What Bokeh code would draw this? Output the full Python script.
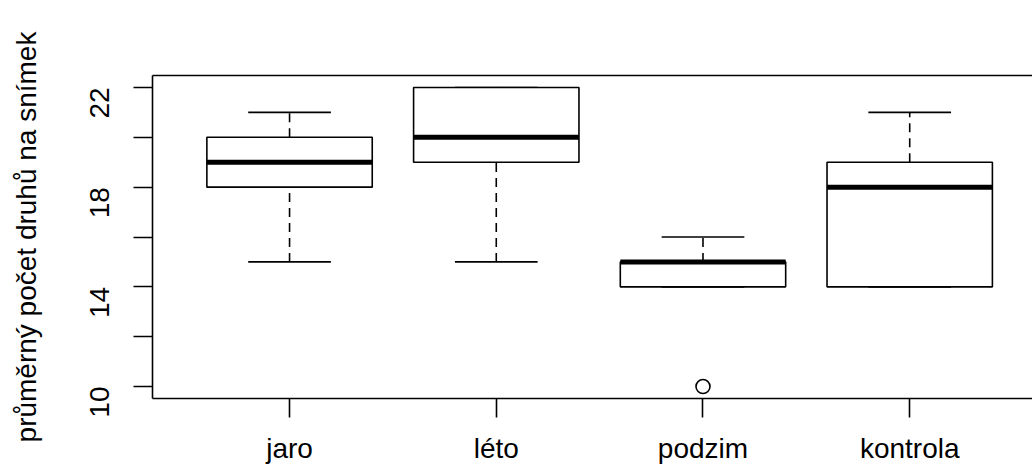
import math
from bokeh.plotting import figure
from bokeh.models import ColumnDataSource, FixedTicker, LinearAxis, Range1d
from bokeh.embed import file_html
from bokeh.resources import INLINE

categories = ["jaro", "léto", "podzim", "kontrola"]
lower_whisker = [15, 15, 14, 14]
q1 = [18, 19, 14, 14]
median = [19, 20, 15, 18]
q3 = [20, 22, 15, 19]
upper_whisker = [21, 22, 16, 21]
outlier_group = ["podzim"]
outlier_value = [10]
y_ticks = [10, 12, 14, 16, 18, 20, 22]
y_labels = ["10", "", "14", "", "18", "", "22"]

pos = [i + 1 for i in range(len(categories))]
src = ColumnDataSource(dict(
    x=pos,
    xl=[p - 0.4 for p in pos], xr=[p + 0.4 for p in pos],
    cl=[p - 0.2 for p in pos], cr=[p + 0.2 for p in pos],
    lw=lower_whisker, q1=q1, med=median, q3=q3, uw=upper_whisker,
))
osrc = ColumnDataSource(dict(
    x=[categories.index(g) + 1 for g in outlier_group], y=outlier_value))

FONT = "Liberation Sans"
LW = 1.6
FS = "28px"

p = figure(width=1032, height=468, output_backend="svg", toolbar_location=None,
           x_range=Range1d(0.337, 4.594), y_range=Range1d(9.52, 22.48),
           min_border_left=152, min_border_top=75, min_border_bottom=70,
           min_border_right=0, background_fill_color="white",
           border_fill_color="white", outline_line_color=None)
p.xgrid.visible = False
p.ygrid.visible = False

# whiskers (dashed)
p.segment(x0="x", y0="q3", x1="x", y1="uw", source=src, line_color="black",
          line_width=LW, line_dash="9 6")
p.segment(x0="x", y0="lw", x1="x", y1="q1", source=src, line_color="black",
          line_width=LW, line_dash="9 6")
# caps
p.segment(x0="cl", y0="uw", x1="cr", y1="uw", source=src, line_color="black", line_width=LW)
p.segment(x0="cl", y0="lw", x1="cr", y1="lw", source=src, line_color="black", line_width=LW)
# boxes
p.quad(left="xl", right="xr", bottom="q1", top="q3", source=src,
       fill_color="white", line_color="black", line_width=LW)
# medians
p.segment(x0="xl", y0="med", x1="xr", y1="med", source=src, line_color="black", line_width=5)
# outliers
p.scatter(x="x", y="y", source=osrc, marker="circle", size=14,
          fill_color=None, line_color="black", line_width=LW)

# x axis
xa = p.xaxis[0]
xa.ticker = FixedTicker(ticks=pos)
xa.major_label_overrides = {p_: c for p_, c in zip(pos, categories)}
xa.major_tick_out = 19
xa.major_tick_in = 0
xa.minor_tick_out = 0
xa.minor_tick_in = 0
xa.axis_line_color = "black"
xa.axis_line_width = LW
xa.major_tick_line_width = LW
xa.major_label_text_font = FONT
xa.major_label_text_font_size = FS
xa.major_label_text_color = "black"
xa.major_label_standoff = 15

# y axis
ya = p.yaxis[0]
ya.ticker = FixedTicker(ticks=y_ticks)
ya.major_label_overrides = {t: l for t, l in zip(y_ticks, y_labels)}
ya.major_label_orientation = math.pi / 2
ya.major_tick_out = 19
ya.major_tick_in = 0
ya.minor_tick_out = 0
ya.minor_tick_in = 0
ya.axis_line_color = "black"
ya.axis_line_width = LW
ya.major_tick_line_width = LW
ya.major_label_text_font = FONT
ya.major_label_text_font_size = FS
ya.major_label_text_color = "black"
ya.major_label_standoff = 34
ya.axis_label = "průměrný počet druhů na snímek"
ya.axis_label_text_font = FONT
ya.axis_label_text_font_size = FS
ya.axis_label_text_font_style = "normal"
ya.axis_label_text_color = "black"
ya.axis_label_standoff = 36

# top border
top = LinearAxis(ticker=FixedTicker(ticks=[]), major_label_text_font_size="0px",
                 axis_line_color="black", axis_line_width=LW,
                 major_tick_line_color=None, minor_tick_line_color=None)
p.add_layout(top, "above")

open("out.html", "w").write(file_html(p, INLINE))
